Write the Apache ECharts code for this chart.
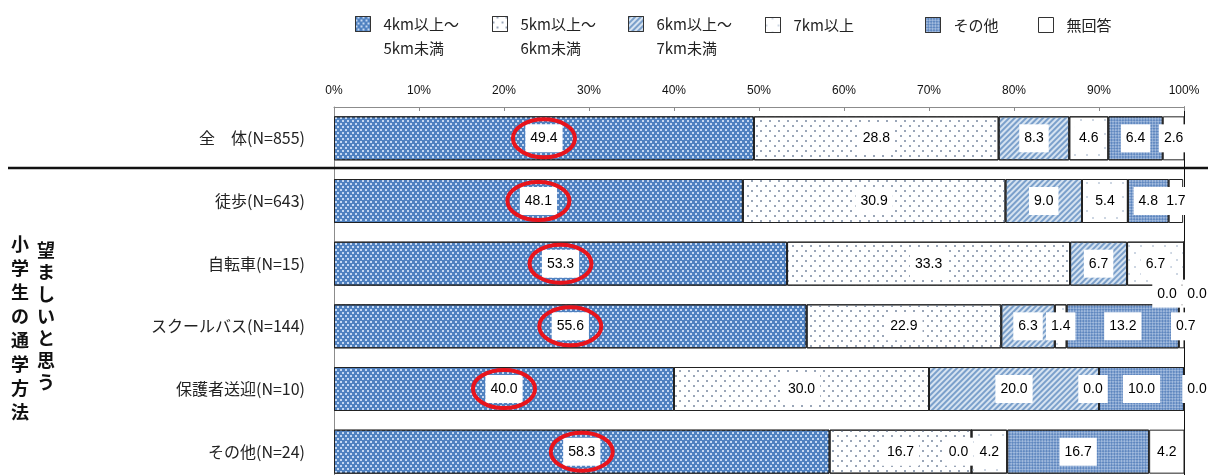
<!DOCTYPE html>
<html>
<head>
<meta charset="utf-8">
<script src="https://cdn.jsdelivr.net/npm/echarts@6/dist/echarts.min.js"></script>
<style>
  html, body { margin: 0; padding: 0; background: #fff; overflow: hidden; }
  /* the last row runs slightly past the bottom edge of the window */
  #c { width: 1208px; height: 483px; }
</style>
</head>
<body>
<div id="c"></div>
<script>
// Rows (top to bottom) and distance bands
const categories = ['全　体(N=855)', '徒歩(N=643)', '自転車(N=15)', 'スクールバス(N=144)', '保護者送迎(N=10)', 'その他(N=24)'];
const seriesNames = ['4km以上～\n5km未満', '5km以上～\n6km未満', '6km以上～\n7km未満', '7km以上', 'その他', '無回答'];

// Percentages per band, one entry per row
const d4to5  = [49.4, 48.1, 53.3, 55.6, 40.0, 58.3];
const d5to6  = [28.8, 30.9, 33.3, 22.9, 30.0, 16.7];
const d6to7  = [8.3, 9.0, 6.7, 6.3, 20.0, 0.0];
const d7plus = [4.6, 5.4, 6.7, 1.4, 0.0, 4.2];
const dOther = [6.4, 4.8, 0.0, 13.2, 10.0, 16.7];
const dNoAns = [2.6, 1.7, 0.0, 0.7, 0.0, 4.2];

const xTickStep = 10;
const sideTitleA = '小学生の通学方法';
const sideTitleB = '望ましいと思う';

const bandValues = [d4to5, d5to6, d6to7, d7plus, dOther, dNoAns];

const JP = '"Noto Sans CJK JP", "Noto Sans", sans-serif';
const NUM = '"Liberation Sans", Arial, sans-serif';

// Fill + texture for each band
const bandStyles = [
  { color: '#4f81c0', decal: { symbol: 'rect', symbolSize: 1, color: 'rgba(225,238,255,0.8)', dashArrayX: [[1.2, 2.8], [0, 2, 1.2, 0.8]], dashArrayY: [1.2, 0.8] } },
  { color: '#ffffff', decal: { symbol: 'rect', symbolSize: 1, color: '#9aa6b8', dashArrayX: [[1.5, 6.5], [0, 4, 1.5, 2.5]], dashArrayY: [1.5, 2.5] } },
  { color: '#d6e3f1', decal: { symbol: 'rect', symbolSize: 1, color: '#7ba0cb', dashArrayX: [1, 0], dashArrayY: [1.6, 1.6], rotation: -Math.PI / 4 } },
  { color: '#ffffff', decal: { symbol: 'rect', symbolSize: 1, color: '#cdd6e2', dashArrayX: [[1.5, 10], [0, 6, 1.5, 4]], dashArrayY: [1.5, 4.5] } },
  { color: '#5f87bf', decal: { symbol: 'rect', symbolSize: 1, color: 'rgba(215,228,246,0.55)', dashArrayX: [[1.5, 1.5], [0, 1.5, 1.5, 0]], dashArrayY: [1.5, 0], rotation: Math.PI / 4 } },
  { color: '#ffffff', decal: 'none' }
];

// Nudges for labels of zero-width segments ("series-row")
const labelNudge = {
  '4-2': [-17, 30],
  '5-2': [13, 30],
  '5-3': [4, 0],
  '3-4': [-6, 0],
  '5-4': [13, 0],
  '2-5': [-13, 0]
};

// Legend slots along the top
const legendLeft = [355, 492, 628, 765, 925, 1038];

const legends = seriesNames.map((name, i) => {
  const twoLines = name.indexOf('\n') >= 0;
  return {
    data: [name],
    left: legendLeft[i],
    top: twoLines ? -12 : 16,
    padding: 0,
    itemWidth: 15,
    itemHeight: 15,
    itemGap: 0,
    icon: 'rect',
    selectedMode: false,
    // indent every line; an empty first line keeps the icon level with the first text line
    formatter: n => {
      const lines = n.split('\n').map(l => '{g|}' + l);
      return (lines.length > 1 ? '\n' : '') + lines.join('\n');
    },
    itemStyle: { borderColor: '#333', borderWidth: 1 },
    textStyle: {
      fontFamily: JP, fontSize: 15, color: '#222',
      lineHeight: twoLines ? 24 : 18,
      rich: { g: { width: 8 } }
    }
  };
});

const barSeries = bandValues.map((arr, si) => ({
  name: seriesNames[si],
  type: 'bar',
  stack: 'total',
  barWidth: 44,
  yAxisIndex: 0,
  itemStyle: {
    color: bandStyles[si].color,
    decal: bandStyles[si].decal === 'none' ? null : bandStyles[si].decal,
    borderColor: '#222',
    borderWidth: 1
  },
  label: {
    show: true,
    position: 'inside',
    formatter: p => Number(p.value).toFixed(1),
    fontFamily: NUM,
    fontSize: 14,
    lineHeight: 14,
    color: '#000',
    backgroundColor: '#fff',
    padding: [7, 5]
  },
  emphasis: { disabled: true },
  data: arr.map((v, ci) => {
    const off = labelNudge[si + '-' + ci];
    return off ? { value: v, label: { offset: off } } : v;
  })
}));

// Red rings around the first band's value labels
const ringSeries = {
  type: 'custom',
  z: 5,
  silent: true,
  data: d4to5.map((v, i) => [v, i]),
  encode: { x: 0, y: 1 },
  renderItem: (params, api) => {
    const p = api.coord([api.value(0) / 2, api.value(1)]);
    return {
      type: 'ellipse',
      shape: { cx: p[0], cy: p[1], rx: 31, ry: 19 },
      style: { fill: 'none', stroke: '#e8141c', lineWidth: 4 }
    };
  }
};

const chart = echarts.init(document.getElementById('c'), null, { renderer: 'canvas' });

chart.setOption({
  animation: false,
  backgroundColor: '#fff',
  legend: legends,
  grid: { left: 334, right: 24, top: 107, bottom: 0, containLabel: false },
  xAxis: {
    type: 'value',
    position: 'top',
    min: 0,
    max: 100,
    interval: xTickStep,
    axisLine: { show: true, lineStyle: { color: '#8c8c8c', width: 1 } },
    axisTick: { show: true, inside: true, length: 4, lineStyle: { color: '#8c8c8c' } },
    splitLine: { show: false },
    axisLabel: { formatter: '{value}%', fontFamily: NUM, fontSize: 12, color: '#111', margin: 10 }
  },
  yAxis: [
    {
      type: 'category',
      data: categories,
      inverse: true,
      axisLine: { show: true, lineStyle: { color: '#8c8c8c' } },
      axisTick: { show: false },
      axisLabel: { margin: 29, fontFamily: JP, fontSize: 16, color: '#222' }
    },
    {
      type: 'category',
      data: categories,
      inverse: true,
      position: 'right',
      axisLine: { show: true, lineStyle: { color: '#111' } },
      axisTick: { show: false },
      axisLabel: { show: false }
    }
  ],
  series: barSeries.concat([ringSeries]),
  graphic: [
    // divider between the overall row and the breakdown rows
    { type: 'line', shape: { x1: 8, y1: 168, x2: 1208, y2: 168 }, style: { stroke: '#111', lineWidth: 2.5 }, z: 10 },
    {
      type: 'text', left: 11, top: 232,
      style: { text: sideTitleA.split('').join('\n'), font: 'bold 18px ' + JP, lineHeight: 24, fill: '#111' }
    },
    {
      type: 'text', left: 37, top: 239,
      style: { text: sideTitleB.split('').join('\n'), font: 'bold 18px ' + JP, lineHeight: 22, fill: '#111' }
    }
  ]
});
</script>
</body>
</html>
